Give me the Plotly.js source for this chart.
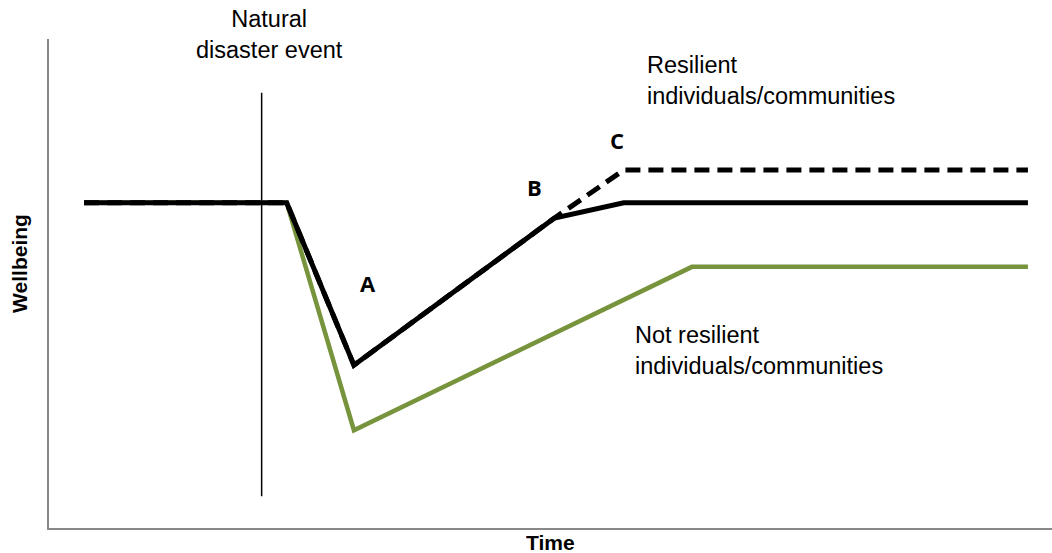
<!DOCTYPE html>
<html>
<head>
<meta charset="utf-8">
<script src="https://cdn.plot.ly/plotly-3.0.1.min.js"></script>
<style>html,body{margin:0;padding:0;background:#fff;}#chart{width:1052px;height:553px;}</style>
</head>
<body>
<div id="chart"></div>
<script>
// Time (0-100) and wellbeing (0-100) values
const timeSolid = [3.5, 23.7, 30.4, 50.4, 57.3, 97.6];
const wellSolid = [66.5, 66.5, 33.3, 63.4, 66.5, 66.5];
const timeDashed = [3.5, 23.7, 30.4, 50.4, 57.3, 97.6];
const wellDashed = [66.5, 66.5, 33.3, 63.4, 73.2, 73.2];
const timeNotResilient = [3.5, 23.7, 30.4, 64.1, 97.6];
const wellNotResilient = [66.5, 66.5, 20.0, 53.4, 53.4];
const eventTime = [21.2, 21.2];
const eventWell = [6.5, 89.0];
const labelPoints = ["A", "B", "C"];
const labelTime = [31.8, 48.4, 56.6];
const labelWell = [50.1, 69.7, 79.3];

const traces = [
  {x: eventTime, y: eventWell, mode: 'lines', line: {color: '#000', width: 1.5}, hoverinfo: 'skip'},
  {x: timeNotResilient, y: wellNotResilient, mode: 'lines', line: {color: '#77933C', width: 4.5}, hoverinfo: 'skip'},
  {x: timeDashed, y: wellDashed, mode: 'lines', line: {color: '#000', width: 5, dash: '15px,8px'}, hoverinfo: 'skip'},
  {x: timeSolid, y: wellSolid, mode: 'lines', line: {color: '#000', width: 5}, hoverinfo: 'skip'}
];

const txtFont = {family: 'Liberation Sans, Arial, sans-serif', size: 23.5, color: '#000'};
const boldFont = {family: 'Liberation Sans, Arial, sans-serif', size: 21, color: '#000'};
const annotations = [
  {x: 0.2203, y: 1.01, xref: 'paper', yref: 'paper', text: 'Natural<br>disaster event', showarrow: false, xanchor: 'center', yanchor: 'middle', align: 'center', font: txtFont},
  {x: 59.4, y: 91.6, xref: 'x', yref: 'y', text: 'Resilient<br>individuals/communities', showarrow: false, xanchor: 'left', yanchor: 'middle', align: 'left', font: txtFont},
  {x: 58.2, y: 36.4, xref: 'x', yref: 'y', text: 'Not resilient<br>individuals/communities', showarrow: false, xanchor: 'left', yanchor: 'middle', align: 'left', font: txtFont},
  {x: 0.5, y: -0.0286, xref: 'paper', yref: 'paper', text: '<b>Time</b>', showarrow: false, xanchor: 'center', yanchor: 'middle', height: 22, borderpad: 0, font: boldFont},
  {x: -0.029, y: 0.542, xref: 'paper', yref: 'paper', text: '<b>Wellbeing</b>', textangle: -90, showarrow: false, xanchor: 'center', yanchor: 'middle', font: boldFont}
];
labelPoints.forEach((t, i) => annotations.push({
  x: labelTime[i], y: labelWell[i], xref: 'x', yref: 'y', text: '<b>' + t + '</b>', showarrow: false,
  xanchor: 'center', yanchor: 'middle', font: {family: 'Open Sans, sans-serif', size: 22, color: '#000'}
}));

const layout = {
  width: 1052, height: 553,
  margin: {l: 49, r: 0, t: 39, b: 25, pad: 0},
  paper_bgcolor: '#fff', plot_bgcolor: '#fff',
  showlegend: false,
  xaxis: {range: [0, 100], showline: true, linecolor: '#888', linewidth: 2, showticklabels: false, ticks: '', showgrid: false, zeroline: false, fixedrange: true},
  yaxis: {range: [0, 100], showline: true, linecolor: '#888', linewidth: 2, showticklabels: false, ticks: '', showgrid: false, zeroline: false, fixedrange: true},
  annotations: annotations
};

Plotly.newPlot('chart', traces, layout, {displayModeBar: false, staticPlot: true});
</script>
</body>
</html>
